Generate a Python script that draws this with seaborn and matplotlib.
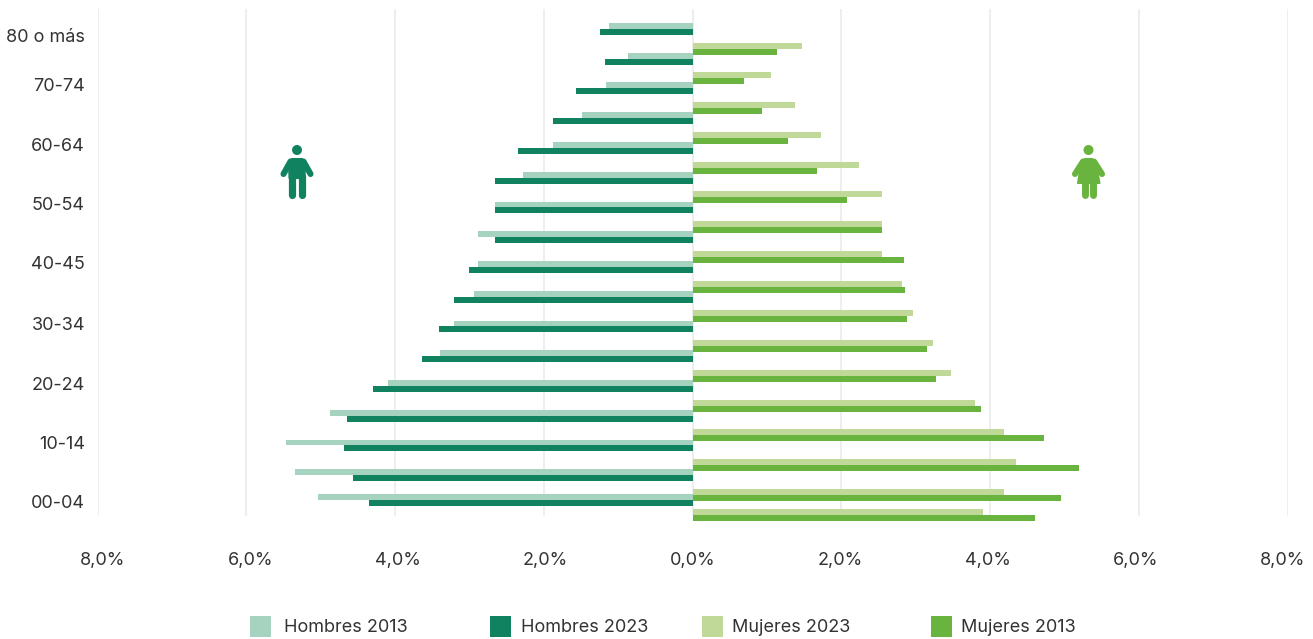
import numpy as np
import pandas as pd
import matplotlib
matplotlib.use("Agg")
import matplotlib.pyplot as plt
from matplotlib.patches import Circle, Polygon, Rectangle
import seaborn as sns

# Age bands, oldest first
age_bands = ["80 o más", "75-79", "70-74", "65-69", "60-64", "55-59", "50-54", "45-49", "40-45",
             "35-39", "30-34", "25-29", "20-24", "15-19", "10-14", "05-09", "00-04"]

# Share of population (%)
hombres_2013 = [1.12, 0.87, 1.16, 1.48, 1.87, 2.28, 2.66, 2.88, 2.89, 2.94, 3.21, 3.39, 4.09, 4.88, 5.47, 5.34, 5.04]
hombres_2023 = [1.25, 1.18, 1.56, 1.88, 2.34, 2.65, 2.65, 2.66, 3.01, 3.21, 3.41, 3.64, 4.29, 4.65, 4.69, 4.57, 4.35]
mujeres_2023 = [1.47, 1.05, 1.38, 1.73, 2.24, 2.55, 2.55, 2.55, 2.82, 2.97, 3.24, 3.48, 3.80, 4.19, 4.35, 4.19, 3.90]
mujeres_2013 = [1.13, 0.69, 0.93, 1.28, 1.67, 2.08, 2.55, 2.85, 2.86, 2.89, 3.15, 3.28, 3.88, 4.73, 5.19, 4.95, 4.61]

x_ticks = [-8, -6, -4, -2, 0, 2, 4, 6, 8]

COLORS = {"Hombres 2013": "#A5D3C0", "Hombres 2023": "#11825F",
          "Mujeres 2023": "#C1D998", "Mujeres 2013": "#68B43F"}
TEXT = "#333333"
W, H = 1313, 639

sns.set_style("white")
plt.rcParams["font.family"] = ["Inter", "DejaVu Sans"]

# Row layout: the source chart has the two sides out of step, last rows are squeezed
men_rows = np.arange(17, dtype=float) - 0.02
men_rows[-1] = 15.82
women_rows = np.arange(17) + 0.64
women_rows[-1] = 16.32
label_rows = [0.2, 1.85, 3.87, 5.85, 7.83, 9.89, 11.9, 13.89, 15.87]
band = 0.4


def px_axes(fig, x0, x1, y0, y1):
    return fig.add_axes([x0 / W, 1 - y1 / H, (x1 - x0) / W, (y1 - y0) / H])


def draw_side(ax, rows, first, second, names, sign):
    df = pd.DataFrame({"row": np.tile(rows, 2),
                       "valor": sign * np.array(first + second),
                       "serie": np.repeat(names, len(rows))})
    sns.barplot(data=df, x="valor", y="row", hue="serie", hue_order=names, orient="y",
                native_scale=True, palette=COLORS, saturation=1, errorbar=None,
                width=band / np.diff(rows).min(), legend=False, ax=ax)


fig = plt.figure(figsize=(W / 100, H / 100), dpi=100)

ax = px_axes(fig, 97.5, 1287.5, 9, 516)
draw_side(ax, men_rows, hombres_2013, hombres_2023, ["Hombres 2013", "Hombres 2023"], -1)
draw_side(ax, women_rows, mujeres_2023, mujeres_2013, ["Mujeres 2023", "Mujeres 2013"], 1)
for p in ax.patches:
    p.set_clip_on(False)
    p.set_linewidth(0)
    p.set_zorder(3)

ax.set_xlim(-8, 8)
ax.set_ylim(16.35, -0.69)
ax.set_xticks(x_ticks)
ax.set_xticklabels([])
ax.set_yticks(label_rows)
ax.set_yticklabels(age_bands[::2], fontsize=13, color=TEXT, ha="right")
ax.tick_params(axis="both", length=0)
ax.tick_params(axis="y", pad=9)
ax.grid(axis="x", color="#EEEEEE", lw=1.4)
ax.set_axisbelow(True)
ax.set(xlabel="", ylabel="")
sns.despine(ax=ax, left=True, bottom=True)

# x labels sit on a slightly narrower scale than the gridlines
ax_lab = px_axes(fig, 103, 1283, 9, 516)
ax_lab.patch.set_visible(False)
ax_lab.set_xlim(-8, 8)
ax_lab.set_xticks(x_ticks)
ax_lab.set_xticklabels([f"{abs(v):.1f}%".replace(".", ",") for v in x_ticks], fontsize=13, color=TEXT)
ax_lab.set_yticks([])
ax_lab.tick_params(axis="x", length=0, pad=26)
sns.despine(ax=ax_lab, left=True, bottom=True)

# Overlay in pixel coordinates for legend and icons
ov = fig.add_axes([0, 0, 1, 1])
ov.set_xlim(0, W)
ov.set_ylim(H, 0)
ov.axis("off")
ov.patch.set_visible(False)

legend_pos = [("Hombres 2013", 250, 284), ("Hombres 2023", 490, 521),
              ("Mujeres 2023", 702, 732), ("Mujeres 2013", 931, 961)]
for name, sx, tx in legend_pos:
    ov.add_patch(Rectangle((sx, 616), 21, 21, color=COLORS[name], lw=0))
    ov.text(tx, 627, name, fontsize=13, color=TEXT, va="center", ha="left")


def limb(xs, ys, color, lw):
    ov.plot(xs, ys, color=color, lw=lw, solid_capstyle="round", solid_joinstyle="round")


def body(points, color):
    ov.add_patch(Polygon(points, closed=True, facecolor=color, edgecolor=color, lw=1.5, joinstyle="round"))


# man icon
c = COLORS["Hombres 2023"]
ov.add_patch(Circle((297, 150), 5, color=c, lw=0))
body([(292, 159), (302, 159), (305, 162), (304.5, 178), (289.5, 178), (289, 162)], c)
limb([290.5, 283.5], [161.5, 174], c, 4.4)
limb([303.5, 310.5], [161.5, 174], c, 4.4)
limb([292.3, 292.3], [176, 195], c, 5.2)
limb([301.7, 301.7], [176, 195], c, 5.2)

# woman icon
c = COLORS["Mujeres 2013"]
ov.add_patch(Circle((1088.5, 150), 5, color=c, lw=0))
body([(1085, 159), (1092, 159), (1095.5, 162), (1099.5, 183), (1078, 183), (1081.5, 162)], c)
limb([1083, 1075], [161.5, 174], c, 4.4)
limb([1094, 1102], [161.5, 174], c, 4.4)
limb([1084.5, 1084.5], [182, 195], c, 5)
limb([1092.5, 1092.5], [182, 195], c, 5)

fig.savefig("out.png", dpi=100)
